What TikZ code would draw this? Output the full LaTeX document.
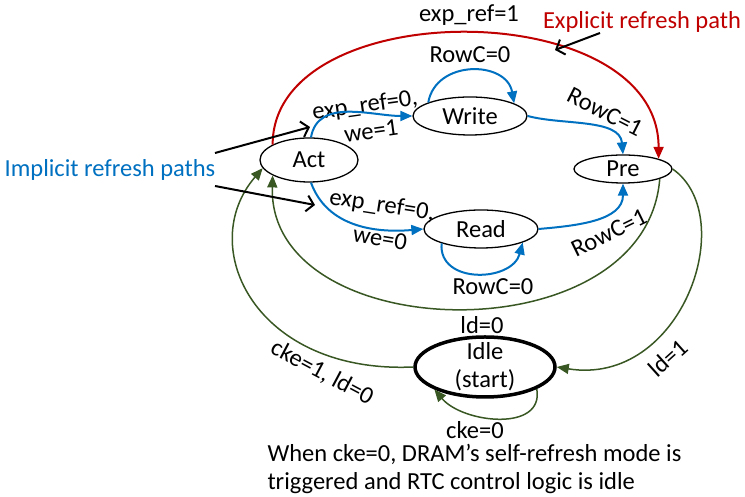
\documentclass[tikz,border=0pt]{standalone}
\usepackage{fontspec}
\setmainfont{Carlito}
\usetikzlibrary{shapes.geometric,arrows.meta}
\definecolor{pathblue}{RGB}{0,112,192}
\definecolor{pathred}{RGB}{192,0,0}
\definecolor{pathgreen}{RGB}{56,87,35}
\begin{document}
\begin{tikzpicture}[x=1pt, y=1pt, font=\fontsize{24.5}{28}\selectfont,
    state/.style={shape=ellipse, draw=black, line width=1.3pt, inner sep=0pt},
    blueline/.style={draw=pathblue, line width=2pt, -{Triangle[length=12pt,width=10pt]}},
    redline/.style={draw=pathred, line width=2pt, -{Triangle[length=12pt,width=10pt]}},
    greenline/.style={draw=pathgreen, line width=1.5pt, -{Triangle[length=12pt,width=10pt]}},
    pointer/.style={draw=black, line width=2pt, -{Straight Barb[length=7pt,width=16pt]}}]
    \useasboundingbox (0,0) rectangle (745,497);

    \node[state, minimum width=98pt, minimum height=44pt] (act) at (309,337) {Act};
    \node[state, minimum width=114pt, minimum height=38pt] (write) at (470,381) {Write};
    \node[state, minimum width=114pt, minimum height=38pt] (read) at (481,268) {Read};
    \node[state, minimum width=98pt, minimum height=28pt] (pre) at (623,328) {Pre};
    \node[state, line width=3.5pt, minimum width=140pt, minimum height=60pt, inner ysep=-5pt, align=center] (idle) at (485,130) {Idle\\(start)};

    \node (lblexpone) at (469,482) {exp\_ref=1};
    \node[text=pathred] (lblexpl) at (642,475) {Explicit refresh path};
    \node[text=pathblue] (lblimpl) at (110,327) {Implicit refresh paths};
    \node (lblrowwr) at (470,442) {RowC=0};
    \node[rotate=8] (lblexpwr) at (365,391) {exp\_ref=0,};
    \node[rotate=8] (lblweone) at (371,366) {we=1};
    \node[rotate=-27] (lblrowwp) at (605,385) {RowC=1};
    \node[rotate=-9] (lblexprd) at (382,291) {exp\_ref=0,};
    \node[rotate=-9] (lblwezero) at (380,259) {we=0};
    \node[rotate=26] (lblrowrp) at (609,264) {RowC=1};
    \node (lblrowrd) at (493,210) {RowC=0};
    \node (lblldzero) at (482,172) {ld=0};
    \node[rotate=42] (lblldone) at (668,139) {ld=1};
    \node[rotate=-28] (lblckeone) at (322,124) {cke=1, ld=0};
    \node (lblckezero) at (475,67) {cke=0};
    \node[anchor=west, align=left] (lblnote) at (264,28) {When cke=0, DRAM’s self-refresh mode is\\triggered and RTC control logic is idle};

    \coordinate (explfrom) at (600,464);
    \coordinate (explto) at (555,447);
    \coordinate (implfromA) at (215,344);
    \coordinate (impltoA) at (310,370);
    \coordinate (implfromB) at (215,311);
    \coordinate (impltoB) at (315,292);

    \draw [redline] (act.157) .. controls +(0,151) and +(0,165) .. (pre.16);
    \draw [blueline] (act.85) to[out=80,in=180] (write.west);
    \draw [blueline] (write.east) to[out=-15,in=95,looseness=0.9] (pre.north);
    \draw [blueline] (act.-85) to[out=-70,in=185] (read.west);
    \draw [blueline] (read.east) to[out=5,in=-90] (pre.south);
    \draw [blueline] (write.162) to[out=80,in=100,looseness=1.3] (write.16);
    \draw [blueline] (read.200) to[out=-95,in=-105,looseness=1.3] (read.-18);
    \draw [greenline] (pre.-15) .. controls +(-14,-178) and +(-5,-172) .. (act.203);
    \draw [greenline] (pre.east) .. controls +(68,-48) and +(125,-20) .. (idle.east);
    \draw [greenline] (idle.west) .. controls +(-157,-7) and +(-68,-79) .. (act.190);
    \draw [greenline] (idle.-23) to[out=-80,in=-50,looseness=1.1] (idle.204);

    \draw [pointer] (explfrom) -- (explto);
    \draw [pointer] (implfromA) -- (impltoA);
    \draw [pointer] (implfromB) -- (impltoB);
  \end{tikzpicture}
\end{document}
